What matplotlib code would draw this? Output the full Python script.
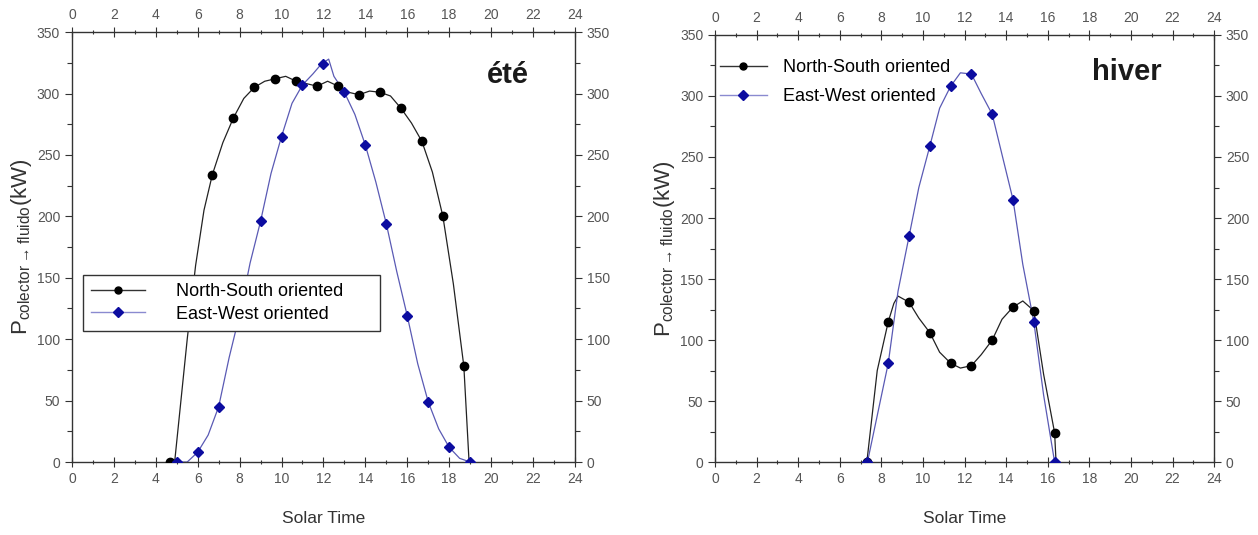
import matplotlib
matplotlib.use("Agg")
import matplotlib.pyplot as plt
from matplotlib.ticker import MultipleLocator

plt.rcParams['font.family'] = ['Liberation Sans', 'DejaVu Sans']

# ---- data ----
# summer ("été")
ete_ns_hours = [4.7, 6.7, 7.7, 8.7, 9.7, 10.7, 11.7, 12.7, 13.7, 14.7, 15.7, 16.7, 17.7, 18.7]
ete_ns_power = [0, 234, 280, 305, 312, 310, 306, 306, 299, 301, 288, 261, 200, 78]
ete_ns_curve_t = [4.6, 4.9, 5.2, 5.5, 5.9, 6.3, 6.7, 7.2, 7.7, 8.2, 8.7, 9.2, 9.7, 10.2, 10.7,
                  11.2, 11.7, 12.2, 12.7, 13.2, 13.7, 14.2, 14.7, 15.2, 15.7, 16.2, 16.7,
                  17.2, 17.7, 18.2, 18.7, 18.95]
ete_ns_curve_p = [0, 0, 50, 100, 160, 205, 234, 260, 280, 296, 305, 310, 312, 314, 310,
                  308, 306, 310, 306, 301, 299, 302, 301, 298, 288, 276, 261,
                  236, 200, 145, 78, 0]

ete_ew_hours = [5, 6, 7, 8, 9, 10, 11, 12, 13, 14, 15, 16, 17, 18, 19]
ete_ew_power = [0, 8, 45, 120, 196, 265, 307, 324, 301, 258, 194, 119, 49, 12, 0]
ete_ew_curve_t = [4.8, 5.5, 6, 6.5, 7, 7.5, 8, 8.5, 9, 9.5, 10, 10.5, 11, 11.5, 11.9, 12.25,
                  12.5, 13, 13.5, 14, 14.5, 15, 15.5, 16, 16.5, 17, 17.5, 18, 18.5, 19]
ete_ew_curve_p = [0, 0, 8, 22, 45, 85, 120, 162, 196, 235, 265, 292, 307, 316, 324, 328,
                  314, 301, 283, 258, 228, 194, 155, 119, 80, 49, 27, 12, 3, 0]

# winter ("hiver")
hiver_ns_hours = [7.33, 8.33, 9.33, 10.33, 11.33, 12.33, 13.33, 14.33, 15.33, 16.33]
hiver_ns_power = [0, 115, 131, 106, 81, 79, 100, 127, 124, 24]
hiver_ns_curve_t = [7.3, 7.8, 8.33, 8.6, 8.8, 9.33, 9.8, 10.33, 10.8, 11.33, 11.8, 12.33,
                    12.8, 13.33, 13.8, 14.33, 14.8, 15.33, 15.8, 16.33, 16.4]
hiver_ns_curve_p = [0, 75, 115, 130, 136, 131, 118, 106, 90, 81, 77, 79,
                    88, 100, 117, 127, 132, 124, 72, 24, 0]

hiver_ew_hours = [7.33, 8.33, 9.33, 10.33, 11.33, 12.33, 13.33, 14.33, 15.33, 16.33]
hiver_ew_power = [0, 81, 185, 259, 308, 318, 285, 215, 115, 0]
hiver_ew_curve_t = [7.33, 8.33, 8.8, 9.33, 9.8, 10.33, 10.8, 11.33, 11.8, 12.33, 12.8,
                    13.33, 13.8, 14.33, 14.8, 15.33, 15.8, 16.33]
hiver_ew_curve_p = [0, 81, 140, 185, 225, 259, 290, 308, 319, 318, 302,
                    285, 252, 215, 162, 115, 55, 0]

ns_label = "North-South oriented"
ew_label = "East-West oriented"
x_ticks = list(range(0, 25, 2))
y_ticks = list(range(0, 351, 50))

TICK_COLOR = '#555555'
NS_LINE = '#222222'
EW_LINE = '#5a5ab4'
EW_MARK = '#0c0ca0'


def setup_axes(ax):
    ax.set_xlim(0, 24)
    ax.set_ylim(0, 350)
    ax.set_xticks(x_ticks)
    ax.set_yticks(y_ticks)
    ax.xaxis.set_minor_locator(MultipleLocator(1))
    ax.yaxis.set_minor_locator(MultipleLocator(25))
    ax.tick_params(axis='both', which='both', labelsize=10, labelcolor=TICK_COLOR,
                   color='#333333', width=0.8)
    ax.tick_params(axis='x', which='both', top=True, labeltop=True, direction='inout')
    ax.tick_params(axis='y', which='both', right=True, labelright=True)
    ax.tick_params(axis='y', which='major', length=5)
    ax.tick_params(axis='x', which='major', length=7)
    ax.tick_params(axis='both', which='minor', length=3.5)
    for s in ax.spines.values():
        s.set_linewidth(1.0)
        s.set_color('#333333')
    ax.set_xlabel("Solar Time", fontsize=12.5, color='#333333', labelpad=18)
    ax.set_ylabel(r'$\mathregular{P_{colector\rightarrow fluido}(kW)}$', fontsize=16,
                  color='#333333', labelpad=2)


def draw(ax, ns, ew):
    (ct, cp, mt, mp), (et, ep, emt, emp) = ns, ew
    ax.plot(ct, cp, color=NS_LINE, lw=0.9, zorder=2)
    ax.plot(mt, mp, 'o', color='black', ms=6, zorder=3)
    ax.plot(et, ep, color=EW_LINE, lw=0.9, zorder=2)
    ax.plot(emt, emp, 'D', color=EW_MARK, ms=5.5, zorder=4)
    h1, = ax.plot([], [], '-o', color='#333333', mfc='black', mec='black', ms=5, lw=1.0)
    h2, = ax.plot([], [], '-D', color='#8a8ad0', mfc=EW_MARK, mec=EW_MARK, ms=5, lw=1.0)
    return h1, h2


fig = plt.figure(figsize=(12.58, 5.35), dpi=100)
ax1 = fig.add_axes([0.0572, 0.1364, 0.3998, 0.8036])
ax2 = fig.add_axes([0.5684, 0.1364, 0.3967, 0.7982])

for ax in (ax1, ax2):
    setup_axes(ax)

h = draw(ax1, (ete_ns_curve_t, ete_ns_curve_p, ete_ns_hours, ete_ns_power),
         (ete_ew_curve_t, ete_ew_curve_p, ete_ew_hours, ete_ew_power))
leg = ax1.legend(h, [ns_label, ew_label], loc='lower left', bbox_to_anchor=(0.022, 0.305, 0.59, 0.18),
                 mode='expand', fontsize=13, frameon=True, fancybox=False, framealpha=1,
                 edgecolor='#333333', handlelength=3.0, handletextpad=1.7, borderpad=0.45,
                 labelspacing=0.3, borderaxespad=0)
leg.get_frame().set_linewidth(1.0)
leg.set_zorder(10)
ax1.text(20.8, 315, "été", fontsize=21, fontweight='bold', ha='center', va='center',
         color='#1a1a1a')

h = draw(ax2, (hiver_ns_curve_t, hiver_ns_curve_p, hiver_ns_hours, hiver_ns_power),
         (hiver_ew_curve_t, hiver_ew_curve_p, hiver_ew_hours, hiver_ew_power))
ax2.legend(h, [ns_label, ew_label], loc='upper left', bbox_to_anchor=(-0.005, 0.96),
           fontsize=13, frameon=False, handlelength=2.6, handletextpad=0.9,
           labelspacing=0.65, borderaxespad=0.0)
ax2.text(19.8, 320, "hiver", fontsize=21, fontweight='bold', ha='center', va='center',
         color='#1a1a1a')

fig.savefig("out.png", dpi=100)
